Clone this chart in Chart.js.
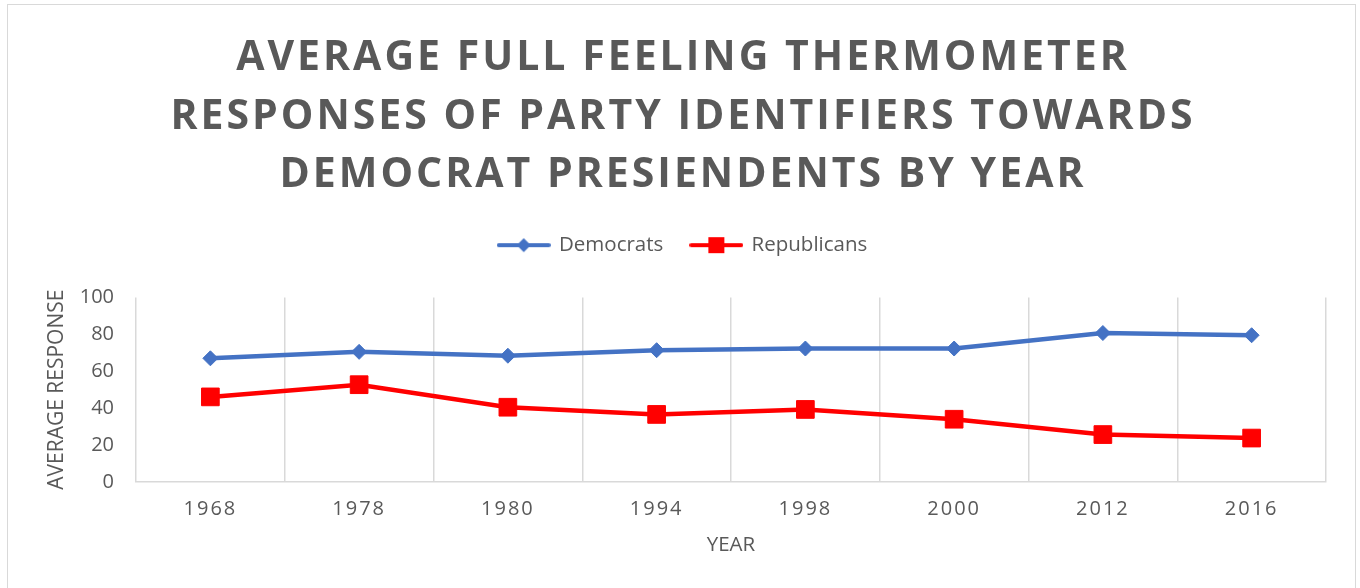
<!DOCTYPE html>
<html>
<head>
<meta charset="utf-8">
<script src="https://cdn.jsdelivr.net/npm/chart.js@4.4.1/dist/chart.umd.min.js"></script>
<style>
html, body { margin: 0; padding: 0; background: #fff; }
#frame { position: absolute; left: 7px; top: 4px; width: 1347px; height: 600px; border: 1px solid #d9d9d9; }
#chart { position: absolute; left: 0; top: 0; }
</style>
</head>
<body>
<div id="frame"></div>
<canvas id="chart" width="1360" height="588"></canvas>
<script>
var years = ['1968', '1978', '1980', '1994', '1998', '2000', '2012', '2016'];
var democrats = [67.0, 70.5, 68.4, 71.4, 72.3, 72.3, 80.7, 79.5];
var republicans = [46.1, 52.7, 40.5, 36.6, 39.3, 34.0, 25.7, 23.8];
var titleLines = [
    'AVERAGE FULL FEELING THERMOMETER',
    'RESPONSES OF PARTY IDENTIFIERS TOWARDS',
    'DEMOCRAT PRESIENDENTS BY YEAR'
];

var textColor = '#595959';
var gridColor = '#d9d9d9';
var blue = '#4472C4';
var red = '#FF0000';

// little line + marker pictures for the legend
function legendIcon(color, shape) {
    var c = document.createElement('canvas');
    c.width = 54;
    c.height = 18;
    var g = c.getContext('2d');
    g.strokeStyle = color;
    g.fillStyle = color;
    g.lineWidth = 4;
    g.lineCap = 'round';
    g.beginPath();
    g.moveTo(2, 9);
    g.lineTo(52, 9);
    g.stroke();
    if (shape === 'diamond') {
        g.beginPath();
        g.moveTo(27, 2);
        g.lineTo(34, 9);
        g.lineTo(27, 16);
        g.lineTo(20, 9);
        g.closePath();
        g.fill();
    } else {
        g.fillRect(19, 1, 16, 16);
    }
    return c;
}
var icons = [legendIcon(blue, 'diamond'), legendIcon(red, 'square')];

// letter spacing for the title and year labels, extra room under the legend
var tweaksPlugin = {
    id: 'tweaks',
    beforeLayout: function (chart) {
        var lg = chart.legend;
        if (lg && !lg._patched) {
            var origFit = lg.fit;
            lg.fit = function () {
                origFit.call(this);
                this.height += 32;
            };
            lg._patched = true;
        }
    },
    beforeDraw: function (chart) {
        var x = chart.scales.x;
        if (x && !x._spaced) {
            var origLabels = x.drawLabels;
            x.drawLabels = function (area) {
                this.ctx.save();
                this.ctx.letterSpacing = '2px';
                origLabels.call(this, area);
                this.ctx.restore();
            };
            x._spaced = true;
        }
        var t = chart.titleBlock;
        if (t && !t._spaced) {
            var origTitle = t.draw;
            t.draw = function () {
                this.ctx.save();
                this.ctx.letterSpacing = '3px';
                origTitle.call(this);
                this.ctx.restore();
            };
            t._spaced = true;
        }
    }
};

var ctx = document.getElementById('chart').getContext('2d');
var chart = new Chart(ctx, {
    type: 'line',
    data: {
        labels: years,
        datasets: [
            {
                label: 'Democrats',
                data: democrats,
                borderColor: blue,
                backgroundColor: blue,
                borderWidth: 4.5,
                pointStyle: 'rectRot',
                pointRadius: 7.5,
                pointBorderWidth: 1,
                tension: 0
            },
            {
                label: 'Republicans',
                data: republicans,
                borderColor: red,
                backgroundColor: red,
                borderWidth: 4.5,
                pointStyle: 'rect',
                pointRadius: 12.5,
                pointBorderWidth: 1,
                tension: 0
            }
        ]
    },
    options: {
        responsive: false,
        animation: false,
        layout: {
            padding: { left: 40, right: 34, top: 10, bottom: 31 }
        },
        plugins: {
            title: {
                display: true,
                text: titleLines,
                color: textColor,
                font: { family: 'Open Sans', size: 41, weight: 'bold', lineHeight: 1.43 },
                padding: { top: 19, bottom: 2 }
            },
            legend: {
                position: 'top',
                labels: {
                    color: textColor,
                    font: { family: 'Open Sans', size: 20.5 },
                    usePointStyle: true,
                    pointStyleWidth: 50,
                    boxHeight: 18,
                    padding: 28,
                    generateLabels: function (chart) {
                        var items = Chart.defaults.plugins.legend.labels.generateLabels(chart);
                        items.forEach(function (item, i) {
                            item.pointStyle = icons[i];
                        });
                        return items;
                    }
                }
            },
            tooltip: { enabled: false }
        },
        scales: {
            x: {
                offset: true,
                afterFit: function (scale) {
                    scale.height = 75;
                },
                grid: {
                    offset: true,
                    color: gridColor,
                    lineWidth: 1.5,
                    drawTicks: false
                },
                border: { color: gridColor, width: 1.5 },
                ticks: {
                    color: textColor,
                    font: { family: 'Open Sans', size: 20 },
                    padding: 15
                },
                title: {
                    display: true,
                    text: 'YEAR',
                    color: textColor,
                    font: { family: 'Open Sans', size: 20.5 },
                    padding: { top: 0, bottom: 0 }
                }
            },
            y: {
                min: 0,
                max: 100,
                grid: { display: false, drawTicks: false },
                border: { display: false },
                afterFit: function (scale) {
                    scale.width = 96;
                },
                ticks: {
                    stepSize: 20,
                    color: textColor,
                    font: { family: 'Open Sans', size: 20 },
                    padding: 22
                },
                title: {
                    display: true,
                    text: 'AVERAGE RESPONSE',
                    color: textColor,
                    font: { family: 'Open Sans', size: 21 },
                    padding: { top: 4, bottom: 0 }
                }
            }
        }
    },
    plugins: [tweaksPlugin]
});
</script>
</body>
</html>
